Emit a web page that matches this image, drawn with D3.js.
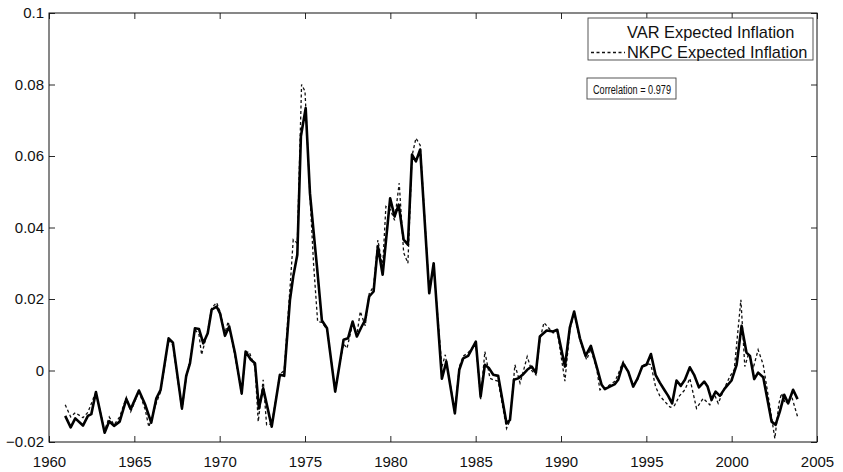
<!DOCTYPE html>
<html>
<head>
<meta charset="utf-8">
<script src="https://cdn.jsdelivr.net/npm/d3@7"></script>
<style>
  body { margin: 0; background: #fff; }
  svg text { font-family: "Liberation Sans", Arial, Helvetica, sans-serif; fill: #111; }
</style>
</head>
<body>
<div id="chart"></div>
<script>
// values: [year, expected inflation]
var varSeries = [
  [1960.95,-0.0127],[1961.27,-0.0159],[1961.54,-0.0134],[1961.99,-0.0154],[1962.28,-0.0127],
  [1962.48,-0.0122],[1962.75,-0.0060],[1963.26,-0.0174],[1963.53,-0.0142],[1963.81,-0.0155],
  [1964.14,-0.0143],[1964.53,-0.0080],[1964.79,-0.0108],[1965.27,-0.0056],[1965.64,-0.0096],
  [1965.99,-0.0146],[1966.29,-0.0078],[1966.54,-0.0054],[1967.01,0.0090],[1967.26,0.0078],
  [1967.79,-0.0106],[1968.04,-0.0015],[1968.26,0.0020],[1968.55,0.0118],[1968.79,0.0116],
  [1969.04,0.0076],[1969.30,0.0104],[1969.53,0.0170],[1969.82,0.0179],[1970.02,0.0160],
  [1970.31,0.0097],[1970.56,0.0123],[1970.90,0.0048],[1971.29,-0.0064],[1971.52,0.0053],
  [1971.83,0.0030],[1972.07,0.0020],[1972.30,-0.0106],[1972.55,-0.0050],[1973.05,-0.0157],
  [1973.53,-0.0012],[1973.78,-0.0015],[1974.12,0.0198],[1974.31,0.0263],[1974.55,0.0324],
  [1974.76,0.0655],[1975.04,0.0734],[1975.29,0.0496],[1975.50,0.0390],[1975.70,0.0291],
  [1975.99,0.0140],[1976.29,0.0118],[1976.77,-0.0059],[1977.26,0.0086],[1977.52,0.0090],
  [1977.79,0.0137],[1978.04,0.0095],[1978.30,0.0121],[1978.53,0.0142],[1978.76,0.0207],
  [1979.02,0.0221],[1979.27,0.0347],[1979.55,0.0268],[1979.99,0.0482],[1980.25,0.0431],
  [1980.49,0.0464],[1980.78,0.0366],[1981.03,0.0352],[1981.27,0.0604],[1981.50,0.0585],
  [1981.75,0.0618],[1982.28,0.0216],[1982.54,0.0300],[1983.02,-0.0023],[1983.28,0.0025],
  [1983.78,-0.0120],[1984.04,0.0002],[1984.27,0.0034],[1984.56,0.0041],[1985.01,0.0081],
  [1985.29,-0.0073],[1985.54,0.0016],[1985.79,0.0006],[1986.03,-0.0012],[1986.32,-0.0015],
  [1986.81,-0.0148],[1987.01,-0.0138],[1987.24,-0.0026],[1987.49,-0.0022],[1987.75,-0.0012],
  [1988.02,0.0002],[1988.28,0.0011],[1988.53,-0.0006],[1988.76,0.0095],[1989.16,0.0112],
  [1989.54,0.0109],[1989.78,0.0114],[1990.23,0.0011],[1990.52,0.0121],[1990.77,0.0165],
  [1991.11,0.0090],[1991.44,0.0041],[1991.75,0.0069],[1992.09,0.0011],[1992.38,-0.0040],
  [1992.57,-0.0052],[1992.86,-0.0045],[1993.16,-0.0038],[1993.35,-0.0026],[1993.64,0.0020],
  [1993.94,-0.0003],[1994.23,-0.0045],[1994.49,-0.0022],[1994.76,0.0011],[1995.01,0.0016],
  [1995.27,0.0046],[1995.54,-0.0012],[1995.79,-0.0034],[1996.05,-0.0054],[1996.28,-0.0071],
  [1996.51,-0.0092],[1996.77,-0.0028],[1997.02,-0.0043],[1997.26,-0.0026],[1997.55,0.0009],
  [1997.80,-0.0012],[1998.08,-0.0047],[1998.39,-0.0031],[1998.59,-0.0045],[1998.82,-0.0082],
  [1999.06,-0.0059],[1999.31,-0.0071],[1999.60,-0.0050],[1999.99,-0.0028],[2000.29,0.0016],
  [2000.58,0.0125],[2000.87,0.0050],[2001.07,0.0041],[2001.32,-0.0024],[2001.55,-0.0006],
  [2001.85,-0.0019],[2002.34,-0.0143],[2002.57,-0.0152],[2002.82,-0.0115],[2003.08,-0.0068],
  [2003.31,-0.0092],[2003.60,-0.0054],[2003.86,-0.0080]
];

var nkpcSeries = [
  [1960.95,-0.0096],[1961.27,-0.0130],[1961.54,-0.0118],[1961.99,-0.0132],[1962.28,-0.0117],
  [1962.64,-0.0073],[1962.75,-0.0062],[1963.26,-0.0168],[1963.53,-0.0130],[1963.81,-0.0152],
  [1964.14,-0.0130],[1964.53,-0.0075],[1964.79,-0.0115],[1965.27,-0.0058],[1965.64,-0.0110],
  [1965.85,-0.0158],[1966.29,-0.0090],[1966.54,-0.0060],[1967.01,0.0085],[1967.26,0.0070],
  [1967.79,-0.0110],[1968.04,-0.0020],[1968.26,0.0030],[1968.55,0.0115],[1968.79,0.0100],
  [1968.94,0.0044],[1969.30,0.0110],[1969.53,0.0175],[1969.82,0.0190],[1970.02,0.0165],
  [1970.31,0.0105],[1970.50,0.0137],[1970.90,0.0040],[1971.29,-0.0068],[1971.52,0.0050],
  [1971.72,0.0053],[1972.07,0.0010],[1972.26,-0.0143],[1972.55,-0.0026],[1972.75,-0.0152],
  [1973.05,-0.0150],[1973.53,-0.0010],[1973.78,0.0000],[1974.12,0.0230],[1974.31,0.0366],
  [1974.55,0.0356],[1974.80,0.0800],[1975.00,0.0781],[1975.29,0.0490],[1975.50,0.0300],
  [1975.74,0.0137],[1975.99,0.0135],[1976.29,0.0115],[1976.77,-0.0055],[1977.26,0.0075],
  [1977.46,0.0062],[1977.79,0.0130],[1978.04,0.0100],[1978.24,0.0165],[1978.53,0.0125],
  [1978.76,0.0215],[1979.02,0.0235],[1979.27,0.0365],[1979.55,0.0290],[1979.74,0.0459],
  [1980.00,0.0450],[1980.25,0.0420],[1980.52,0.0524],[1980.78,0.0330],[1981.03,0.0300],
  [1981.27,0.0600],[1981.50,0.0650],[1981.75,0.0630],[1982.28,0.0220],[1982.54,0.0290],
  [1983.02,0.0010],[1983.22,0.0044],[1983.78,-0.0115],[1984.04,0.0010],[1984.27,0.0040],
  [1984.56,0.0050],[1985.01,0.0075],[1985.29,-0.0080],[1985.54,0.0053],[1985.84,-0.0022],
  [1986.03,-0.0026],[1986.32,-0.0030],[1986.81,-0.0162],[1987.01,-0.0140],[1987.30,0.0016],
  [1987.60,-0.0035],[1987.75,-0.0010],[1988.02,0.0039],[1988.28,0.0000],[1988.53,-0.0012],
  [1988.76,0.0085],[1989.00,0.0134],[1989.54,0.0105],[1989.78,0.0110],[1990.23,-0.0030],
  [1990.52,0.0115],[1990.77,0.0160],[1991.11,0.0085],[1991.50,0.0030],[1991.75,0.0060],
  [1992.09,0.0005],[1992.28,-0.0054],[1992.57,-0.0050],[1992.86,-0.0040],[1993.16,-0.0030],
  [1993.35,-0.0010],[1993.64,0.0025],[1993.94,-0.0005],[1994.23,-0.0040],[1994.49,-0.0025],
  [1994.76,0.0012],[1995.01,0.0020],[1995.27,0.0016],[1995.54,-0.0045],[1995.79,-0.0071],
  [1996.05,-0.0085],[1996.40,-0.0103],[1996.65,-0.0098],[1996.94,-0.0071],[1997.26,-0.0054],
  [1997.55,-0.0022],[1997.94,-0.0106],[1998.33,-0.0078],[1998.72,-0.0096],[1998.97,-0.0064],
  [1999.21,-0.0092],[1999.60,-0.0047],[1999.90,-0.0016],[2000.15,0.0002],[2000.54,0.0198],
  [2000.77,0.0011],[2001.00,0.0048],[2001.26,0.0006],[2001.55,0.0058],[2001.85,0.0016],
  [2002.24,-0.0101],[2002.53,-0.0190],[2002.77,-0.0092],[2002.92,-0.0064],[2003.15,-0.0092],
  [2003.50,-0.0070],[2003.86,-0.0129]
];

var xTicks = [1960, 1965, 1970, 1975, 1980, 1985, 1990, 1995, 2000, 2005];
var yTicks = [-0.02, 0, 0.02, 0.04, 0.06, 0.08, 0.1];
var yTickLabels = ["\u22120.02", "0", "0.02", "0.04", "0.06", "0.08", "0.1"];
var legendLabels = ["VAR Expected Inflation", "NKPC Expected Inflation"];
var correlationText = "Correlation = 0.979";

var svgWidth = 843;
var svgHeight = 472;
var margin = { top: 13, right: 26, bottom: 30, left: 49 };
var width = svgWidth - margin.left - margin.right;
var height = svgHeight - margin.top - margin.bottom;

var svg = d3.select("#chart")
  .append("svg")
  .attr("width", svgWidth)
  .attr("height", svgHeight);

var chartGroup = svg.append("g")
  .attr("transform", `translate(${margin.left}, ${margin.top})`);

var xScale = d3.scaleLinear().domain([1960, 2005]).range([0, width]);
var yScale = d3.scaleLinear().domain([-0.02, 0.1]).range([height, 0]);

// axes with inward ticks, MATLAB style box
var bottomAxis = d3.axisBottom(xScale).tickValues(xTicks).tickFormat(d3.format("d"))
  .tickSizeInner(-6).tickSizeOuter(0).tickPadding(14);
var leftAxis = d3.axisLeft(yScale).tickValues(yTicks).tickFormat((d, i) => yTickLabels[i])
  .tickSizeInner(-6).tickSizeOuter(0).tickPadding(5);
var topAxis = d3.axisTop(xScale).tickValues(xTicks).tickFormat("").tickSizeInner(-6).tickSizeOuter(0);
var rightAxis = d3.axisRight(yScale).tickValues(yTicks).tickFormat("").tickSizeInner(-6).tickSizeOuter(0);

function styleAxis(g) {
  g.select(".domain").remove();
  g.selectAll(".tick line").attr("stroke", "#111").attr("stroke-width", 0.9);
  g.selectAll(".tick text").style("font-size", "15px").attr("fill", "#111");
}

chartGroup.append("g").attr("transform", `translate(0, ${height})`).call(bottomAxis).call(styleAxis);
chartGroup.append("g").call(leftAxis).call(styleAxis);
chartGroup.append("g").call(topAxis).call(styleAxis);
chartGroup.append("g").attr("transform", `translate(${width}, 0)`).call(rightAxis).call(styleAxis);

chartGroup.append("rect")
  .attr("x", 0).attr("y", 0)
  .attr("width", width).attr("height", height)
  .attr("fill", "none").attr("stroke", "#111").attr("stroke-width", 1);

var line = d3.line()
  .x(d => xScale(d[0]))
  .y(d => yScale(d[1]));

chartGroup.append("path")
  .datum(nkpcSeries)
  .attr("d", line)
  .attr("fill", "none")
  .attr("stroke", "#111")
  .attr("stroke-width", 1.3)
  .attr("stroke-dasharray", "3,2.5");

chartGroup.append("path")
  .datum(varSeries)
  .attr("d", line)
  .attr("fill", "none")
  .attr("stroke", "#000")
  .attr("stroke-width", 2.6)
  .attr("stroke-linejoin", "round");

// legend
var legend = svg.append("g").attr("transform", "translate(588, 18)");
legend.append("rect")
  .attr("width", 225).attr("height", 42)
  .attr("fill", "#fff").attr("stroke", "#444").attr("stroke-width", 0.9);
legend.append("text").attr("x", 39).attr("y", 19.5).style("font-size", "16.4px").text(legendLabels[0]);
legend.append("line")
  .attr("x1", 3).attr("x2", 37).attr("y1", 34.5).attr("y2", 34.5)
  .attr("stroke", "#111").attr("stroke-width", 1.3).attr("stroke-dasharray", "3,2.5");
legend.append("text").attr("x", 39).attr("y", 39.5).style("font-size", "16.4px").text(legendLabels[1]);

var corr = svg.append("g").attr("transform", "translate(587, 78)");
corr.append("rect")
  .attr("width", 89).attr("height", 21)
  .attr("fill", "#fff").attr("stroke", "#444").attr("stroke-width", 0.9);
corr.append("text").attr("x", 6).attr("y", 15.5).style("font-size", "12.5px")
  .attr("textLength", 78).attr("lengthAdjust", "spacingAndGlyphs")
  .text(correlationText);
</script>
</body>
</html>
